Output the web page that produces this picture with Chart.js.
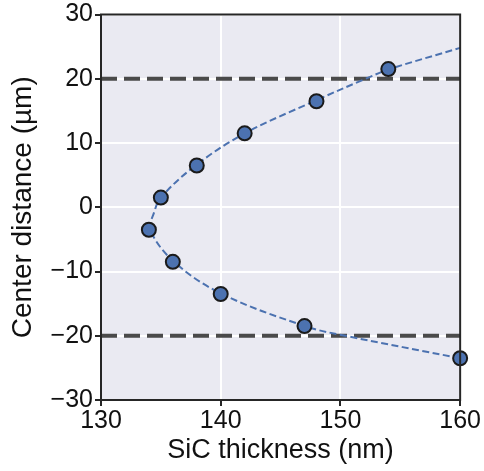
<!DOCTYPE html>
<html>
<head>
<meta charset="utf-8">
<script src="https://cdn.jsdelivr.net/npm/chart.js@4"></script>
<style>
  body { margin: 0; background: #fff; }
</style>
</head>
<body>
<canvas id="myChart" width="484" height="471"></canvas>
<script>
// measured points
const thickness = [160, 147, 140, 136, 134, 135, 138, 142, 148, 154];
const distance = [-23.5, -18.5, -13.5, -8.5, -3.5, 1.5, 6.5, 11.5, 16.5, 21.5];

// dashed fit curve
const fitThickness = [160, 150.4, 147.2, 140.1, 136.1, 134.1, 134.4, 135.0, 137.9, 142.0, 147.8, 152.1, 154.1, 160];
const fitDistance = [-23.5, -20, -18.6, -13.5, -8.5, -3.5, -1, 1.5, 6.5, 11.5, 16.5, 20, 21.5, 24.8];

// horizontal reference lines
const refX = [130, 160];
const refTop = [20, 20];
const refBottom = [-20, -20];

const xTicks = [130, 140, 150, 160];
const yTicks = [-30, -20, -10, 0, 10, 20, 30];

const toXY = (xs, ys) => xs.map((x, i) => ({ x: x, y: ys[i] }));

const frame = {
    id: 'frame',
    beforeDraw(chart) {
        const a = chart.chartArea, c = chart.ctx;
        c.save();
        c.fillStyle = '#EAEAF2';
        c.fillRect(a.left, a.top, a.right - a.left, a.bottom - a.top);
        c.restore();
    },
    afterDraw(chart) {
        const a = chart.chartArea, c = chart.ctx;
        c.save();
        c.strokeStyle = '#262626';
        c.lineWidth = 2;
        c.strokeRect(a.left, a.top, a.right - a.left, a.bottom - a.top);
        c.restore();
    }
};

const family = '"Liberation Sans", Arial, sans-serif';
const tickFont = { family: family, size: 25, lineHeight: 1 };

const data = {
    datasets: [{
        label: 'measured',
        data: toXY(thickness, distance),
        showLine: false,
        pointRadius: 7,
        pointHoverRadius: 7,
        backgroundColor: '#4C72B0',
        borderColor: '#1a1a1a',
        borderWidth: 2,
        order: 1
    }, {
        label: 'fit',
        data: toXY(fitThickness, fitDistance),
        showLine: true,
        pointRadius: 0,
        borderColor: '#4C72B0',
        borderWidth: 2,
        borderDash: [7, 3.5],
        tension: 0.35,
        order: 2
    }, {
        label: 'top',
        data: toXY(refX, refTop),
        showLine: true,
        pointRadius: 0,
        borderColor: '#4a4a4a',
        borderWidth: 4,
        borderDash: [16, 7],
        order: 3
    }, {
        label: 'bottom',
        data: toXY(refX, refBottom),
        showLine: true,
        pointRadius: 0,
        borderColor: '#4a4a4a',
        borderWidth: 4,
        borderDash: [16, 7],
        order: 3
    }]
};

const config = {
    type: 'scatter',
    data: data,
    options: {
        responsive: false,
        animation: false,
        clip: false,
        layout: { padding: { top: 14, right: 23, left: 0, bottom: 0 } },
        plugins: { legend: { display: false }, tooltip: { enabled: false } },
        scales: {
            x: {
                type: 'linear',
                min: 130,
                max: 160,
                afterFit: s => { s.height = 71; },
                afterBuildTicks: s => { s.ticks = xTicks.map(v => ({ value: v })); },
                ticks: { font: tickFont, color: '#111', padding: 3 },
                grid: { color: '#ffffff', lineWidth: 2, tickColor: '#262626', tickLength: 6, tickWidth: 2 },
                border: { display: false },
                title: { display: true, text: 'SiC thickness (nm)', font: { family: family, size: 27 }, color: '#111', padding: { top: 4, bottom: 4 } }
            },
            y: {
                type: 'linear',
                min: -30,
                max: 30,
                afterFit: s => { s.width = 101; },
                afterBuildTicks: s => { s.ticks = yTicks.map(v => ({ value: v })); },
                ticks: {
                    font: tickFont,
                    color: '#111',
                    padding: 2,
                    callback: v => String(v).replace('-', '\u2212')
                },
                grid: { color: '#ffffff', lineWidth: 2, tickColor: '#262626', tickLength: 6, tickWidth: 2 },
                border: { display: false },
                title: { display: true, text: 'Center distance (µm)', font: { family: family, size: 28 }, color: '#111', padding: { top: 6, bottom: 4 } }
            }
        }
    },
    plugins: [frame]
};

const myChart = new Chart(document.getElementById('myChart'), config);
</script>
</body>
</html>
